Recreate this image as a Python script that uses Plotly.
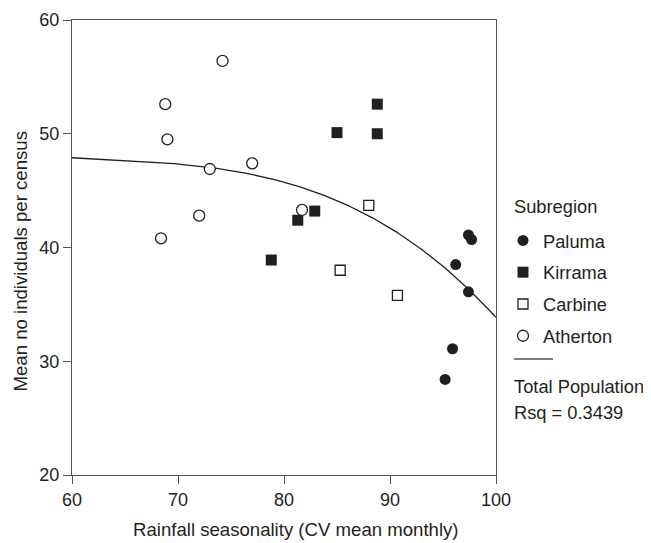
import numpy as np
import plotly.graph_objects as go

paluma_x = [97.4, 97.7, 96.2, 97.4, 95.9, 95.2]
paluma_y = [41.1, 40.7, 38.5, 36.1, 31.1, 28.4]
kirrama_x = [88.8, 85.0, 88.8, 82.9, 81.3, 78.8]
kirrama_y = [52.6, 50.1, 50.0, 43.2, 42.4, 38.9]
carbine_x = [88.0, 85.3, 90.7]
carbine_y = [43.7, 38.0, 35.8]
atherton_x = [74.2, 68.8, 69.0, 73.0, 77.0, 72.0, 68.4, 81.7]
atherton_y = [56.4, 52.6, 49.5, 46.9, 47.4, 42.8, 40.8, 43.3]

x_ticks = [60, 70, 80, 90, 100]
y_ticks = [20, 30, 40, 50, 60]

x_title = "Rainfall seasonality (CV mean monthly)"
y_title = "Mean no individuals per census"

# Total population fit (cubic curve estimated from all points)
all_x = np.array(paluma_x + kirrama_x + carbine_x + atherton_x)
all_y = np.array(paluma_y + kirrama_y + carbine_y + atherton_y)
coef = np.polyfit(all_x, all_y, 3)
fit_x = np.linspace(60, 100, 200)
fit_y = np.polyval(coef, fit_x)

ink = "#231f20"
fam = "Arial, Liberation Sans, sans-serif"
tick_font = dict(family=fam, size=18, color=ink)
title_font = dict(family=fam, size=18.6, color=ink)
leg_font = dict(family=fam, size=18.3, color=ink)

fig = go.Figure()
fig.add_trace(go.Scatter(x=fit_x, y=fit_y, mode="lines", line=dict(color=ink, width=1.3),
                         showlegend=False, hoverinfo="skip"))
fig.add_trace(go.Scatter(x=paluma_x, y=paluma_y, mode="markers", name="Paluma", legendgroup="a",
                         marker=dict(symbol="circle", size=11, color=ink, line=dict(width=0))))
fig.add_trace(go.Scatter(x=kirrama_x, y=kirrama_y, mode="markers", name="Kirrama", legendgroup="b",
                         marker=dict(symbol="square", size=11, color=ink, line=dict(width=0))))
fig.add_trace(go.Scatter(x=carbine_x, y=carbine_y, mode="markers", name="Carbine", legendgroup="c",
                         marker=dict(symbol="square", size=10, color="white", line=dict(width=1.3, color=ink))))
fig.add_trace(go.Scatter(x=atherton_x, y=atherton_y, mode="markers", name="Atherton", legendgroup="d",
                         marker=dict(symbol="circle", size=11, color="white", line=dict(width=1.3, color=ink))))

# page has an 8px body margin
OFF = 8
W, H = 651 - OFF, 543 - OFF
L, R, T, B = 64, 155, 12, 68
PW, PH = W - L - R, H - T - B

def px(xpage):
    return (xpage - OFF - L) / PW

def py(ypage):
    return (OFF + H - B - ypage) / PH

def note(text, xp, yp, font, **kw):
    return dict(text=text, x=px(xp), y=py(yp), xref="paper", yref="paper",
                yanchor="middle", showarrow=False, font=font, **kw)

fig.update_layout(
    width=W, height=H, margin=dict(l=L, r=R, t=T, b=B, autoexpand=False),
    paper_bgcolor="white", plot_bgcolor="white", font=tick_font,
    showlegend=True,
    legend=dict(x=px(503), y=py(222), xanchor="left", yanchor="top",
                tracegroupgap=5.0, font=leg_font, bgcolor="rgba(0,0,0,0)"),
    xaxis=dict(range=[60, 100], tickvals=x_ticks, ticks="outside", ticklen=8, tickcolor="#555",
               tickfont=tick_font, automargin=False,
               showline=True, linecolor="#555", linewidth=1.4, mirror=True, showgrid=False, zeroline=False),
    yaxis=dict(range=[20, 60], tickvals=y_ticks, ticks="outside", ticklen=8, tickcolor="#555",
               tickfont=tick_font, automargin=False,
               showline=True, linecolor="#555", linewidth=1.4, mirror=True, showgrid=False, zeroline=False),
    shapes=[dict(type="line", xref="paper", yref="paper", x0=px(514), x1=px(553), y0=py(359), y1=py(359),
                 line=dict(color="#555", width=1.3))],
    annotations=[
        note(x_title, 296, 529.5, title_font, xanchor="center"),
        note(y_title, 19.5, 262, title_font, xanchor="center", textangle=-90),
        note("Subregion", 512, 206, leg_font, xanchor="left"),
        note("Total Population", 512, 386, leg_font, xanchor="left"),
        note("Rsq = 0.3439", 512, 412, leg_font, xanchor="left"),
    ],
)
fig.write_html("out.html")
